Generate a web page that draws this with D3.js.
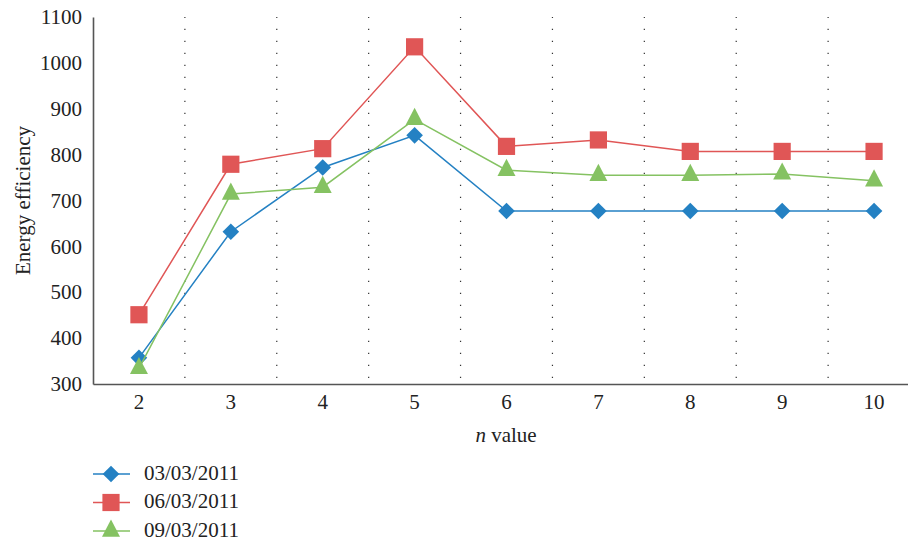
<!DOCTYPE html>
<html>
<head>
<meta charset="utf-8">
<script src="https://cdn.jsdelivr.net/npm/d3@7"></script>
<style>
  html, body { margin: 0; padding: 0; background: #fff; }
  svg { display: block; }
  svg text { font-family: "Liberation Serif", "DejaVu Serif", serif !important; fill: #222; }
</style>
</head>
<body>
<svg id="chart" width="908" height="542"></svg>
<script>
// n values on the horizontal axis
const categories = ["2", "3", "4", "5", "6", "7", "8", "9", "10"];
// energy efficiency per measurement date
const seriesNames = ["03/03/2011", "06/03/2011", "09/03/2011"];
const valuesMar03 = [357, 632, 772, 842, 677, 677, 677, 677, 677];
const valuesMar06 = [451, 779, 813, 1035, 818, 832, 807, 807, 807];
const valuesMar09 = [334, 714, 729, 877, 766, 755, 755, 758, 743];
const yTicks = [300, 400, 500, 600, 700, 800, 900, 1000, 1100];

const colors = ["#2481c3", "#e05656", "#85c262"];
const FONT = "'Liberation Serif', 'DejaVu Serif', serif";
const FS = 21;

const svg = d3.select("#chart");
const margin = { left: 93, right: -12, top: 17, bottom: 158 };
const W = 908, H = 542;

const x = d3.scaleBand().domain(categories)
  .range([margin.left, W - margin.right]).paddingInner(0).paddingOuter(0);
const y = d3.scaleLinear().domain([300, 1100]).range([H - margin.bottom, margin.top]);

// dotted separators between categories
const bounds = categories.slice(1).map(c => x(c));
svg.append("g").selectAll("line").data(bounds).join("line")
  .attr("x1", d => d).attr("x2", d => d)
  .attr("y1", y(300) - 6).attr("y2", y(1100))
  .attr("stroke", "#333").attr("stroke-width", 1.2)
  .attr("stroke-dasharray", "1.2,10.8");

// axes
const xAxis = d3.axisBottom(x).tickSize(0).tickPadding(10);
const gx = svg.append("g").attr("transform", `translate(0,${y(300)})`).call(xAxis)
  .attr("font-family", FONT).attr("font-size", FS);
gx.select(".domain").attr("stroke", "#555").attr("stroke-width", 1.6);
gx.selectAll("text").attr("fill", "#222");

const yAxis = d3.axisLeft(y).tickValues(yTicks).tickFormat(d3.format("d")).tickSize(0).tickPadding(11);
const gy = svg.append("g").attr("transform", `translate(${margin.left},0)`).call(yAxis)
  .attr("font-family", FONT).attr("font-size", FS);
gy.select(".domain").attr("stroke", "#555").attr("stroke-width", 1.6);
gy.selectAll("text").attr("fill", "#222");

// axis titles
svg.append("text")
  .attr("transform", `translate(30,${(y(300) + y(1100)) / 2}) rotate(-90)`)
  .attr("text-anchor", "middle").attr("font-family", FONT).attr("font-size", FS)
  .text("Energy efficiency");

const xt = svg.append("text").attr("x", 506).attr("y", 442)
  .attr("text-anchor", "middle").attr("font-family", FONT).attr("font-size", FS);
xt.append("tspan").style("font-style", "italic").text("n");
xt.append("tspan").text(" value");

// series
const allSeries = [valuesMar03, valuesMar06, valuesMar09];
const line = d3.line()
  .x((d, i) => x(categories[i]) + x.bandwidth() / 2)
  .y(d => y(d));

// marker shapes: diamond, square, triangle
const diamond = "M0,-8.3L8.3,0L0,8.3L-8.3,0Z";
const square = "M-8.6,-8.6H8.6V8.6H-8.6Z";
const triangle = "M0,-11.5L9,5.7L-9,5.7Z";
const shapes = [diamond, square, triangle];

allSeries.forEach((vals, k) => {
  const g = svg.append("g");
  g.append("path").datum(vals).attr("d", line)
    .attr("fill", "none").attr("stroke", colors[k]).attr("stroke-width", 1.5);
  g.selectAll("path.m").data(vals).join("path").attr("class", "m")
    .attr("transform", (d, i) => `translate(${x(categories[i]) + x.bandwidth() / 2},${y(d)})`)
    .attr("d", shapes[k])
    .attr("fill", colors[k]);
});

// legend
const lg = svg.append("g");
seriesNames.forEach((name, k) => {
  const cy = 474 + k * 28.5;
  lg.append("line").attr("x1", 93).attr("x2", 130).attr("y1", cy).attr("y2", cy)
    .attr("stroke", colors[k]).attr("stroke-width", 1.5);
  lg.append("path").attr("transform", `translate(111,${cy})`)
    .attr("d", shapes[k]).attr("fill", colors[k]);
  lg.append("text").attr("x", 144).attr("y", cy + 5.5)
    .attr("font-family", FONT).attr("font-size", FS).text(name);
});
</script>
</body>
</html>
